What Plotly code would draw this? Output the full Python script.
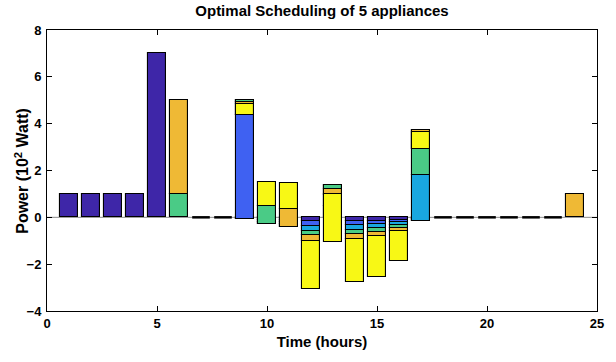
import plotly.graph_objects as go
import numpy as np

hours = list(range(1, 25))

# Power per appliance (10^2 W), one list per stacked series (MATLAB-style cumulative stacking)
s1_darkblue = [1.0, 1.0, 1.0, 1.0, 7.0, 0, 0, 0, -0.06, -0.10, -0.10, -0.17, 0.50, -0.17, -0.14, -0.11, -0.07, 0, 0, 0, 0, 0, 0, 0]
s2_blue     = [0, 0, 0, 0, 0, 0, 0, 0, 4.42, -0.10, -0.10, -0.21, 0.45, -0.17, -0.16, -0.11, -0.07, 0, 0, 0, 0, 0, 0, 0]
s3_cyan     = [0, 0, 0, 0, 0, 0, 0, 0, 0.64, -0.10, -0.10, -0.20, 0.45, -0.185, -0.16, -0.12, 1.93, 0, 0, 0, 0, 0, 0, 0]
s4_green    = [0, 0, 0, 0, 0, 1.0, 0, 0, -0.08, 0.78, -0.13, -0.19, -0.19, -0.20, -0.17, -0.12, 1.96, 0, 0, 0, 0, 0, 0, 0]
s5_orange   = [0, 0, 0, 0, 0, 4.0, 0, 0, -0.09, 0, 0.80, -0.22, -0.23, -0.20, -0.185, -0.14, -0.85, 0, 0, 0, 0, 0, 0, 1.0]
s6_yellow   = [0, 0, 0, 0, 0, 0, 0, 0, -0.47, 1.04, 1.11, -2.06, -2.03, -1.85, -1.74, -1.27, 0.75, 0, 0, 0, 0, 0, 0, 0]

series = [s1_darkblue, s2_blue, s3_cyan, s4_green, s5_orange, s6_yellow]
colors = ['#3E26A8', '#3F61F2', '#19A7E0', '#4ACB86', '#EFB935', '#F8F815']

x_ticks = [0, 5, 10, 15, 20, 25]
y_ticks = [-4, -2, 0, 2, 4, 6, 8]

FONT = 'Liberation Sans, Arial, sans-serif'
BAR_W = 0.8
W, H = 616, 362
ML, MR, MT, MB = 47, 13, 30, 51

fig = go.Figure()

# MATLAB baseline
fig.add_shape(type='line', xref='x', yref='y', x0=x_ticks[0], x1=x_ticks[-1], y0=0, y1=0,
              line=dict(color='#8c8c8c', width=1), layer='below')

vals = np.array(series, dtype=float)
cum = np.cumsum(vals, axis=0)
base_prev = np.zeros(len(hours))
for k, (s, c) in enumerate(zip(series, colors)):
    y = np.array(s, dtype=float)
    mask = y != 0
    fig.add_trace(go.Bar(
        x=np.array(hours)[mask], y=y[mask], base=base_prev[mask], width=BAR_W,
        marker=dict(color=c, line=dict(color='black', width=1.1)),
        showlegend=False))
    base_prev = cum[k]

# zero-height bars drawn as their edges (black dashes)
zx, zy = [], []
for i, h in enumerate(hours):
    if np.all(vals[:, i] == 0):
        zx += [h - BAR_W / 2, h + BAR_W / 2, None]
        zy += [0, 0, None]
fig.add_trace(go.Scatter(x=zx, y=zy, mode='lines', line=dict(color='black', width=2.5),
                         showlegend=False, hoverinfo='skip'))

axis_common = dict(showgrid=False, zeroline=False, showline=True, linecolor='black', linewidth=1,
                   ticks='inside', ticklen=5, tickcolor='black', mirror='ticks',
                   tickfont=dict(family=FONT, size=13, color='black', weight='bold'))

fig.update_layout(
    width=W, height=H,
    margin=dict(l=ML, r=MR, t=MT, b=MB),
    paper_bgcolor='white', plot_bgcolor='white',
    barmode='overlay', bargap=0,
    title=dict(text='Optimal Scheduling of 5 appliances', x=0.5, xref='paper', y=1 - 11 / H,
               yanchor='middle', xanchor='center',
               font=dict(family=FONT, size=15, color='black', weight='bold')),
    xaxis=dict(range=[x_ticks[0], x_ticks[-1]], tickvals=x_ticks,
               title=dict(text='Time (hours)', standoff=6,
                          font=dict(family=FONT, size=15, color='black', weight='bold')),
               **axis_common),
    yaxis=dict(range=[y_ticks[0], y_ticks[-1]], tickvals=y_ticks, ticklabelstandoff=2,
               **axis_common),
)

# y-axis label placed as rotated annotation
fig.add_annotation(text='Power (10<sup>2</sup> Watt)', textangle=-90, showarrow=False,
                   xref='paper', yref='paper', x=(21 - ML) / (W - ML - MR), y=0.5,
                   xanchor='center', yanchor='middle',
                   font=dict(family=FONT, size=16, color='black', weight='bold'))

fig.write_html('out.html')
